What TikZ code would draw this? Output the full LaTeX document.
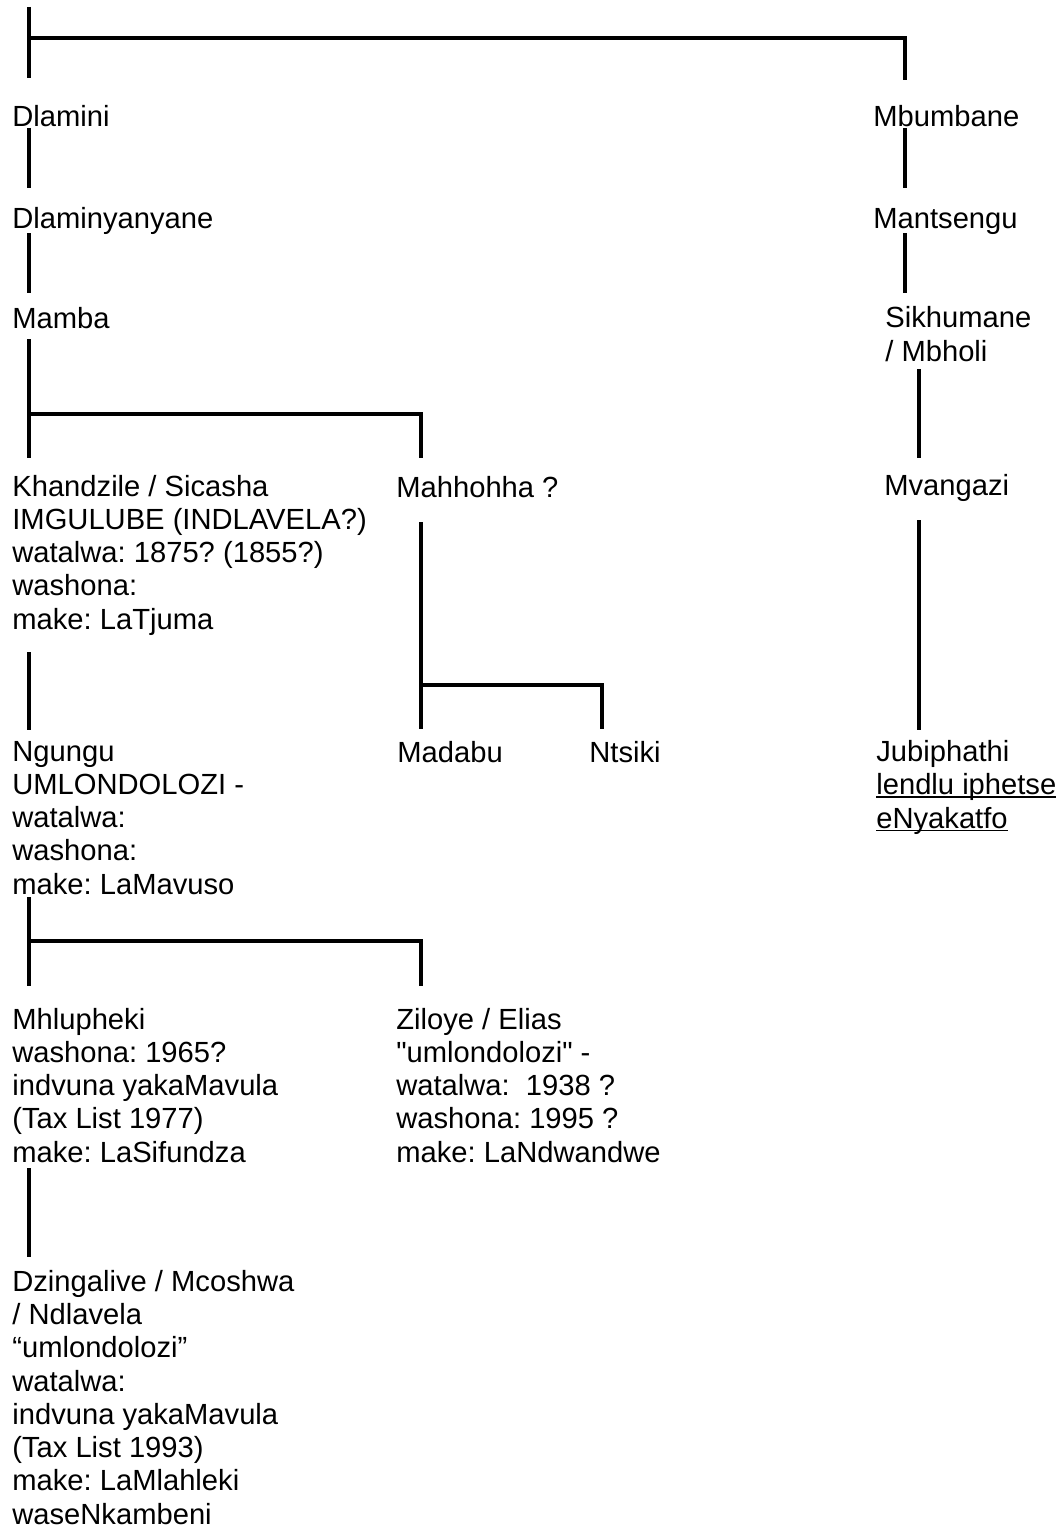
\documentclass[tikz,border=0pt]{standalone}
\usepackage{fontspec}
\newfontfamily\treefont{Liberation Sans}
\usepackage{tikz}
\usetikzlibrary{calc,positioning}
\newcommand{\ulin}[1]{\setbox0\hbox{#1}\rlap{\rule[-1.6pt]{\wd0}{0.7pt}}\box0}

\begin{document}
\begin{tikzpicture}[
  x=0.02cm, y=-0.02cm,
  person/.style={anchor=base west,inner sep=0pt,align=left,font={\treefont\frenchspacing\fontsize{16.6}{18.9}\selectfont}},
  link/.style={line width=2pt,black},
]
\useasboundingbox (0,0) rectangle (1063,1531);

% left line of descent (nodes sit on the baseline of their last line)
\node[person] (dlamini) at (12,127) {Dlamini};
\node[person] (dlaminyanyane) at (12,228) {Dlaminyanyane};
\node[person] (mamba) at (12,328) {Mamba};
\node[person] (khandzile) at (12,629) {Khandzile / Sicasha\\IMGULUBE (INDLAVELA?)\\watalwa: 1875? (1855?)\\washona:\\make: LaTjuma};
\node[person] (mahhohha) at (396,497) {Mahhohha ?};
\node[person] (ngungu) at (12,894) {Ngungu\\UMLONDOLOZI -\\watalwa:\\washona:\\make: LaMavuso};
\node[person] (madabu) at (397,762) {Madabu};
\node[person] (ntsiki) at (589,762) {Ntsiki};
\node[person] (mhlupheki) at (12,1162) {Mhlupheki\\washona: 1965?\\indvuna yakaMavula\\(Tax List 1977)\\make: LaSifundza};
\node[person] (ziloye) at (396,1162) {Ziloye / Elias\\"umlondolozi" -\\watalwa:\ \ 1938 ?\\washona: 1995 ?\\make: LaNdwandwe};
\node[person] (dzingalive) at (12,1524) {Dzingalive / Mcoshwa\\/ Ndlavela\\“umlondolozi”\\watalwa:\\indvuna yakaMavula\\(Tax List 1993)\\make: LaMlahleki\\waseNkambeni};

% right line of descent
\node[person] (mbumbane) at (873,127) {Mbumbane};
\node[person] (mantsengu) at (873,228) {Mantsengu};
\node[person] (sikhumane) at (885,361) {Sikhumane\\/ Mbholi};
\node[person] (mvangazi) at (884,495) {Mvangazi};
\node[person] (jubiphathi) at (876,828) {Jubiphathi\\\ulin{lendlu iphetse}\\\ulin{eNyakatfo}};

% top branch
\coordinate (top) at (29,7);
\draw[link] (top) -- ([shift={(17,-49)}]dlamini.base west);
\draw[link] ([shift={(0,31)}]top) -| ([shift={(32,-47)}]mbumbane.base west);

\draw[link] ([shift={(17,1)}]dlamini.base west) -- ([shift={(17,-40)}]dlaminyanyane.base west);
\draw[link] ([shift={(17,5)}]dlaminyanyane.base west) -- ([shift={(17,-35)}]mamba.base west);
\draw[link] ([shift={(17,11)}]mamba.base west) -- ([shift={(17,-171)}]khandzile.base west);
\draw[link] ([shift={(17,86)}]mamba.base west) -| ([shift={(25,-39)}]mahhohha.base west);

\draw[link] ([shift={(17,23)}]khandzile.base west) -- ([shift={(17,-164)}]ngungu.base west);
\draw[link] ([shift={(25,25)}]mahhohha.base west) -- ([shift={(24,-33)}]madabu.base west);
\draw[link] ([shift={(25,188)}]mahhohha.base west) -| ([shift={(13,-33)}]ntsiki.base west);

\draw[link] ([shift={(17,3)}]ngungu.base west) -- ([shift={(17,-176)}]mhlupheki.base west);
\draw[link] ([shift={(17,47)}]ngungu.base west) -| ([shift={(25,-176)}]ziloye.base west);
\draw[link] ([shift={(17,6)}]mhlupheki.base west) -- ([shift={(17,-267)}]dzingalive.base west);

\draw[link] ([shift={(32,1)}]mbumbane.base west) -- ([shift={(32,-40)}]mantsengu.base west);
\draw[link] ([shift={(32,5)}]mantsengu.base west) -- ([shift={(20,-68)}]sikhumane.base west);
\draw[link] ([shift={(34,8)}]sikhumane.base west) -- ([shift={(35,-37)}]mvangazi.base west);
\draw[link] ([shift={(35,25)}]mvangazi.base west) -- ([shift={(43,-98)}]jubiphathi.base west);
\end{tikzpicture}
\end{document}
